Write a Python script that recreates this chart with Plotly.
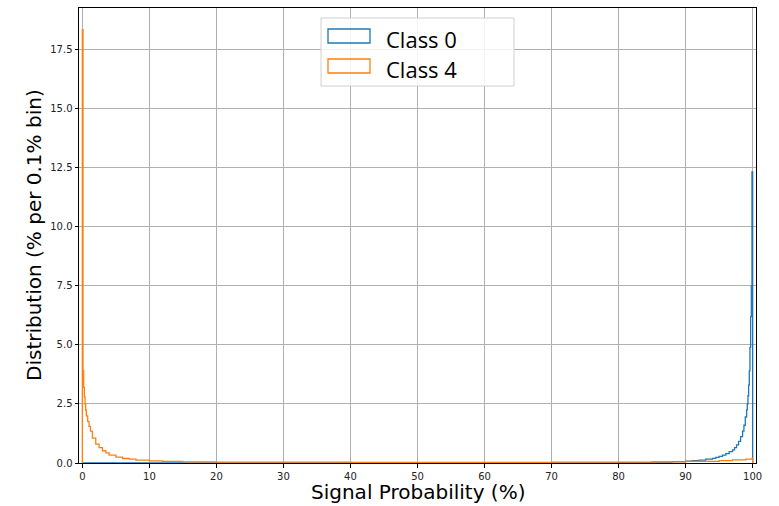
import plotly.graph_objects as go

# Histogram outlines: bin edges (%) and heights (% of events per 0.1% bin).
# Bins are narrow where the distributions change quickly, wider elsewhere.
class0_edges = [0, 60, 80, 85, 88, 90, 91, 92, 93, 94, 94.5, 95, 95.5, 96,
                96.5, 97, 97.3, 97.6, 97.9, 98.2, 98.5, 98.7, 98.9, 99.1,
                99.2, 99.3, 99.4, 99.5, 99.6, 99.7, 99.8, 99.9, 100]
class0_heights = [0.0, 0.005, 0.02, 0.04, 0.06, 0.08, 0.1, 0.12, 0.16, 0.2,
                  0.24, 0.28, 0.33, 0.4, 0.48, 0.56, 0.65, 0.77, 0.92, 1.12,
                  1.35, 1.6, 1.95, 2.25, 2.5, 2.85, 3.3, 3.9, 4.9, 6.2, 7.5,
                  12.33]

class4_edges = [0, 0.1, 0.2, 0.3, 0.4, 0.5, 0.6, 0.8, 1.0, 1.2, 1.5, 2.0,
                2.5, 3.0, 3.5, 4.0, 5.0, 6.0, 7.0, 8.0, 10, 12, 15, 20, 30,
                40, 50, 60, 70, 80, 85, 90, 95, 97, 99, 99.9, 100]
class4_heights = [18.36, 3.9, 3.2, 2.8, 2.5, 2.25, 2.0, 1.75, 1.55, 1.35,
                  1.05, 0.8, 0.65, 0.52, 0.43, 0.33, 0.25, 0.19, 0.16, 0.12,
                  0.09, 0.07, 0.05, 0.04, 0.035, 0.03, 0.03, 0.03, 0.035,
                  0.04, 0.05, 0.07, 0.1, 0.13, 0.16, 0.2]

series = [("Class 0", class0_edges, class0_heights, "#1f77b4"),
          ("Class 4", class4_edges, class4_heights, "#ff7f0e")]

x_ticks = list(range(0, 101, 10))
y_ticks = [0.0, 2.5, 5.0, 7.5, 10.0, 12.5, 15.0, 17.5]

fig = go.Figure()
for name, edges, heights, color in series:
    # step outline that rises from zero at the first edge and drops back at the last
    xs = [edges[0]] + edges[:-1] + [edges[-1]]
    ys = [0.0] + heights + [0.0]
    fig.add_trace(go.Scatter(x=xs, y=ys, mode="lines", name=name,
                             line=dict(color=color, width=1.3, shape="hv"),
                             showlegend=False, hoverinfo="skip"))

L, R, T, B = 79, 756, 8, 463
W, H = 779, 506
ymax = max(class4_heights) * 1.05


def px(x):
    return (x - L) / (R - L)


def py(y):
    return (B - y) / (B - T)


axis_common = dict(showline=True, linecolor="black", linewidth=1, mirror=True,
                   ticks="outside", ticklen=3.5, tickwidth=0.8, tickcolor="black",
                   showgrid=True, gridcolor="#b0b0b0", gridwidth=0.8,
                   zeroline=False,
                   tickfont=dict(family="DejaVu Sans", size=10, color="#222222"))

fig.update_xaxes(range=[-0.5, 100.5], tickvals=x_ticks,
                 ticktext=[str(v) for v in x_ticks], **axis_common)
fig.update_yaxes(range=[0, ymax], tickvals=y_ticks,
                 ticktext=[f"{v:.1f}" for v in y_ticks], **axis_common)

# legend box with outlined patches
shapes = [
    dict(type="rect", xref="paper", yref="paper",
         x0=px(321), x1=px(514), y0=py(86), y1=py(18),
         line=dict(color="#d0d0d0", width=1), fillcolor="rgba(255,255,255,0.85)",
         layer="above"),
]
annotations = []
for i, (name, _, _, color) in enumerate(series):
    top = 29 + 30 * i
    shapes.append(dict(type="rect", xref="paper", yref="paper",
                       x0=px(328), x1=px(370), y0=py(top + 14), y1=py(top),
                       line=dict(color=color, width=1.3), fillcolor="rgba(0,0,0,0)",
                       layer="above"))
    annotations.append(dict(text=name, xref="paper", yref="paper",
                            x=px(384), y=py(39.5 + 30 * i), xanchor="left",
                            yanchor="middle", showarrow=False,
                            font=dict(family="Open Sans", size=22, color="black")))

# axis titles
annotations.append(dict(text="Signal Probability (%)", xref="paper", yref="paper",
                        x=0.5, y=py(492), xanchor="center", yanchor="middle",
                        showarrow=False,
                        font=dict(family="DejaVu Sans", size=20, color="black")))
annotations.append(dict(text="Distribution (% per 0.1% bin)", xref="paper",
                        yref="paper", x=px(33.5), y=0.5, xanchor="center",
                        yanchor="middle", textangle=-90, showarrow=False,
                        font=dict(family="DejaVu Sans", size=20, color="black")))

fig.update_layout(width=W, height=H, paper_bgcolor="white", plot_bgcolor="white",
                  margin=dict(l=L, r=W - R, t=T, b=H - B),
                  shapes=shapes, annotations=annotations, showlegend=False)

fig.write_html("out.html")
